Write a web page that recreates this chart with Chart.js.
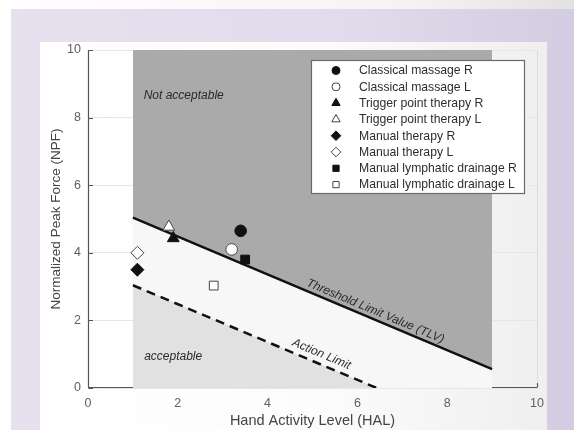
<!DOCTYPE html>
<html>
<head>
<meta charset="utf-8">
<script src="https://cdn.jsdelivr.net/npm/chart.js@4/dist/chart.umd.min.js"></script>
<style>
  html, body { margin: 0; padding: 0; }
  body { width: 574px; height: 430px; position: relative; overflow: hidden;
         background: linear-gradient(to right, #ffffff 0%, #f4f4f4 70%, #e2e2e2 100%); }
  #lav { position: absolute; left: 11px; top: 9px; width: 563px; height: 421px;
         background: linear-gradient(to right, #e6e0ef 0%, #e1dbeb 60%, #d4cce0 100%); }
  #panel { position: absolute; left: 40px; top: 42px; width: 507px; height: 388px;
           background: linear-gradient(to right, #ffffff 0%, #fcfcfc 55%, #efefef 100%); }
  #c { position: absolute; left: 0; top: 0; }
</style>
</head>
<body>
<div id="lav"></div>
<div id="panel"><canvas id="c" width="507" height="388"></canvas></div>
<script>
// ---- data ----
const categories = [
  'Classical massage R', 'Classical massage L',
  'Trigger point therapy R', 'Trigger point therapy L',
  'Manual therapy R', 'Manual therapy L',
  'Manual lymphatic drainage R', 'Manual lymphatic drainage L'
];
const halValues = [3.4, 3.2, 1.9, 1.8, 1.1, 1.1, 3.5, 2.8];
const npfValues = [4.65, 4.1, 4.43, 4.77, 3.5, 4.0, 3.8, 3.03];
const tlvHAL = [1, 9];
const tlvNPF = [5.04, 0.56];
const actionHAL = [1, 6.43];
const actionNPF = [3.04, 0];
const xTickValues = [0, 2, 4, 6, 8, 10];
const yTickValues = [0, 2, 4, 6, 8, 10];
const regionLabels = ['Not acceptable', 'acceptable', 'Threshold Limit Value (TLV)', 'Action Limit'];

// ---- styles ----
const markerShapes = ['circle', 'circle', 'triangle', 'triangle', 'rectRot', 'rectRot', 'rect', 'rect'];
const markerFilled = [true, false, true, false, true, false, true, false];
const markerRadius = { circle: 5.8, triangle: 6.8, rectRot: 6.5, rect: 6.2 };
const legendRadius = { circle: 4, triangle: 4.8, rectRot: 4.8, rect: 4.4 };

const toXY = (xs, ys) => xs.map((x, i) => ({ x: x, y: ys[i] }));

const pointSets = categories.map((name, i) => ({
  type: 'scatter',
  label: name,
  data: [{ x: halValues[i], y: npfValues[i] }],
  pointStyle: markerShapes[i],
  pointRadius: markerRadius[markerShapes[i]],
  pointBackgroundColor: markerFilled[i] ? '#111111' : '#ffffff',
  pointBorderColor: markerFilled[i] ? '#111111' : '#444444',
  pointBorderWidth: 1,
  order: 0
}));

const regionSets = [
  { type: 'line', label: '_above', data: toXY(tlvHAL, tlvNPF), fill: 'end',
    backgroundColor: '#aaaaaa', borderWidth: 0, pointRadius: 0, order: 10 },
  { type: 'line', label: '_below', data: toXY(tlvHAL, tlvNPF), fill: 'start',
    backgroundColor: '#f7f7f7', borderWidth: 0, pointRadius: 0, order: 9 },
  { type: 'line', label: '_action', data: toXY(actionHAL, actionNPF), fill: 'start',
    backgroundColor: '#e1e1e1', borderColor: '#111111', borderWidth: 2.5,
    borderDash: [9, 6], pointRadius: 0, order: 8 },
  { type: 'line', label: '_tlv', data: toXY(tlvHAL, tlvNPF), fill: false,
    borderColor: '#111111', borderWidth: 2.5, pointRadius: 0, order: 7 }
];

const FONT = '"Liberation Sans", Arial, Helvetica, sans-serif';

// axes + inward ticks drawn under the filled regions
const axesPlugin = {
  id: 'axesUnder',
  beforeDatasetsDraw(chart) {
    const ctx = chart.ctx, a = chart.chartArea;
    const xs = chart.scales.x, ys = chart.scales.y;
    ctx.save();
    ctx.strokeStyle = '#555555';
    ctx.lineWidth = 1.2;
    ctx.beginPath();
    ctx.moveTo(a.left + 0.5, a.top);
    ctx.lineTo(a.left + 0.5, a.bottom - 0.5);
    ctx.lineTo(a.right, a.bottom - 0.5);
    xTickValues.forEach(v => {
      const px = Math.round(xs.getPixelForValue(v)) + 0.5;
      ctx.moveTo(px, a.bottom - 0.5); ctx.lineTo(px, a.bottom - 5);
    });
    yTickValues.forEach(v => {
      const py = Math.round(ys.getPixelForValue(v)) + 0.5;
      ctx.moveTo(a.left + 0.5, py); ctx.lineTo(a.left + 5, py);
    });
    ctx.stroke();
    ctx.restore();
  }
};

// text annotations + legend box
const overlayPlugin = {
  id: 'overlay',
  afterDatasetsDraw(chart) {
    const ctx = chart.ctx, a = chart.chartArea;
    const xs = chart.scales.x, ys = chart.scales.y;
    const X = v => xs.getPixelForValue(v), Y = v => ys.getPixelForValue(v);
    ctx.save();
    ctx.fillStyle = '#2a2a2a';
    ctx.font = 'italic 12px ' + FONT;
    ctx.textBaseline = 'middle';
    ctx.textAlign = 'left';
    ctx.fillText(regionLabels[0], X(1.24), Y(8.64));
    ctx.fillText(regionLabels[1], X(1.25), Y(0.92));

    const ang = Math.atan2(Y(tlvNPF[1]) - Y(tlvNPF[0]), X(tlvHAL[1]) - X(tlvHAL[0]));
    ctx.font = 'italic 12px ' + FONT;
    ctx.textAlign = 'center';
    ctx.save();
    ctx.translate(X(6.4), Y(2.27));
    ctx.rotate(ang);
    ctx.fillText(regionLabels[2], 0, 0);
    ctx.restore();
    ctx.save();
    ctx.translate(X(5.2), Y(1.0));
    ctx.rotate(ang);
    ctx.fillText(regionLabels[3], 0, 0);
    ctx.restore();

    // legend
    const bx = a.right - 226, by = a.top + 10, bw = 213, bh = 133;
    ctx.fillStyle = '#ffffff';
    ctx.fillRect(bx, by, bw, bh);
    ctx.strokeStyle = '#6a6a6a';
    ctx.lineWidth = 1.2;
    ctx.strokeRect(bx + 0.5, by + 0.5, bw, bh);
    ctx.font = '12.2px ' + FONT;
    ctx.textAlign = 'left';
    ctx.textBaseline = 'middle';
    categories.forEach((name, i) => {
      const ry = by + 10.5 + i * 16.3;
      const shape = markerShapes[i];
      ctx.fillStyle = markerFilled[i] ? '#111111' : '#ffffff';
      ctx.strokeStyle = markerFilled[i] ? '#111111' : '#444444';
      ctx.lineWidth = 1;
      Chart.helpers.drawPoint(ctx, { pointStyle: shape, radius: legendRadius[shape], borderWidth: 1, rotation: 0 },
        bx + 25, ry);
      ctx.fillStyle = '#2e2e2e';
      ctx.fillText(name, bx + 48, ry + 0.5);
    });
    ctx.restore();
  }
};

new Chart(document.getElementById('c'), {
  data: { datasets: [...pointSets, ...regionSets] },
  options: {
    responsive: false,
    animation: false,
    events: [],
    layout: { padding: { left: 0, right: 10, top: 8, bottom: 0 } },
    plugins: { legend: { display: false }, tooltip: { enabled: false } },
    scales: {
      x: {
        type: 'linear', min: 0, max: 10,
        afterBuildTicks: s => { s.ticks = xTickValues.map(v => ({ value: v })); },
        afterFit: s => { s.height = 42; s.paddingLeft = 0; s.paddingRight = 0; s.paddingTop = 0; s.paddingBottom = 0; },
        border: { display: false },
        grid: {
          drawTicks: false,
          color: c => (c.tick && c.tick.value === 10) ? '#dddddd' : 'rgba(0,0,0,0)',
          lineWidth: 1
        },
        ticks: { color: '#606060', padding: 8, font: { family: FONT, size: 12.5 } },
        title: { display: true, text: 'Hand Activity Level (HAL)', color: '#444444',
                 font: { family: FONT, size: 14.5 }, padding: { top: 3, bottom: 0 } }
      },
      y: {
        type: 'linear', min: 0, max: 10,
        afterBuildTicks: s => { s.ticks = yTickValues.map(v => ({ value: v })); },
        afterFit: s => { s.width = 48; s.paddingLeft = 0; s.paddingRight = 0; s.paddingTop = 0; s.paddingBottom = 0; },
        border: { display: false },
        grid: { drawTicks: false, color: '#e6e6e6', lineWidth: 1 },
        ticks: { color: '#606060', padding: 7, font: { family: FONT, size: 12.5 } },
        title: { display: true, text: 'Normalized Peak Force (NPF)', color: '#444444',
                 font: { family: FONT, size: 13.5 }, padding: { top: 8, bottom: 0 } }
      }
    }
  },
  plugins: [axesPlugin, overlayPlugin]
});
</script>
</body>
</html>
